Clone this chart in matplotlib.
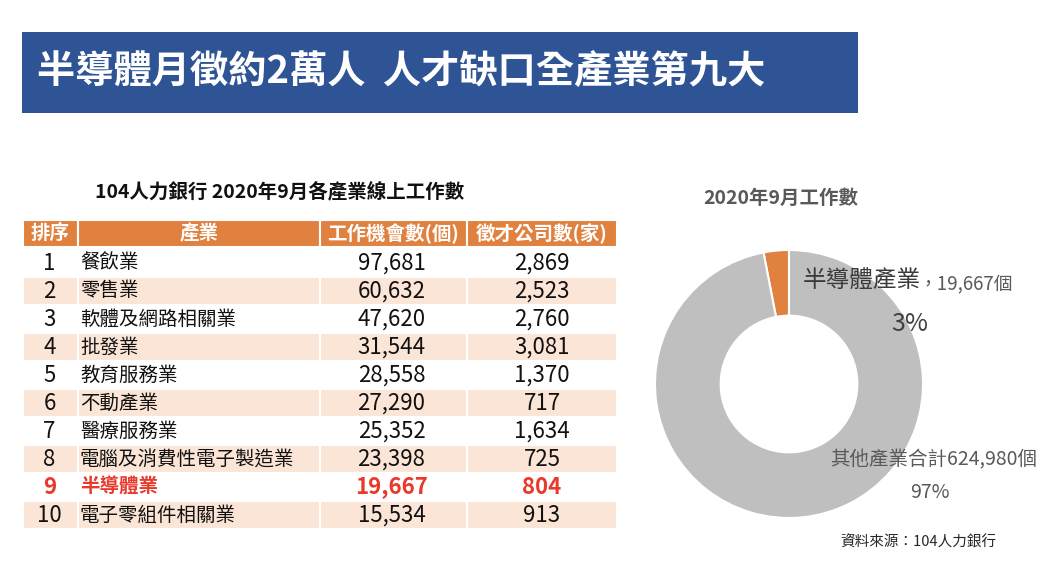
import matplotlib
matplotlib.use("Agg")
import matplotlib.pyplot as plt
from matplotlib.patches import Rectangle

plt.rcParams['font.family'] = ['Noto Sans CJK TC', 'DejaVu Sans']

# ---------------- datos ----------------
titulo = "半導體月徵約2萬人  人才缺口全產業第九大"
titulo_tabla = "104人力銀行 2020年9月各產業線上工作數"
encabezados = ["排序", "產業", "工作機會數(個)", "徵才公司數(家)"]
rangos = [1, 2, 3, 4, 5, 6, 7, 8, 9, 10]
industrias = ["餐飲業", "零售業", "軟體及網路相關業", "批發業", "教育服務業",
              "不動產業", "醫療服務業", "電腦及消費性電子製造業", "半導體業",
              "電子零組件相關業"]
trabajos = [97681, 60632, 47620, 31544, 28558, 27290, 25352, 23398, 19667, 15534]
empresas = [2869, 2523, 2760, 3081, 1370, 717, 1634, 725, 804, 913]
destacado = 9  # fila en rojo

titulo_dona = "2020年9月工作數"
dona_labels = ["半導體產業", "其他產業合計"]
dona_vals = [19667, 624980]
fuente = "資料來源：104人力銀行"

# ---------------- colores ----------------
AZUL = "#2E5496"
NARANJA = "#E0813F"
DURAZNO = "#FBE5D6"
GRIS = "#BFBFBF"
ROJO = "#E8392B"

fig = plt.figure(figsize=(10.48, 5.75), dpi=100)
W, H = 1048, 575

# ---------------- dona ----------------
cx, cy, r = 789, 384, 134
axd = fig.add_axes([(cx - r) / W, (H - cy - r) / H, 2 * r / W, 2 * r / H])
axd.pie(dona_vals, colors=[NARANJA, GRIS], startangle=90, counterclock=True,
        radius=1, wedgeprops=dict(width=0.49, edgecolor='white', linewidth=1.5))
axd.set_xlim(-1, 1)
axd.set_ylim(-1, 1)
axd.set_aspect('equal')
axd.axis('off')

# ---------------- lienzo en pixeles ----------------
ax = fig.add_axes([0, 0, 1, 1])
ax.set_xlim(0, W)
ax.set_ylim(H, 0)
ax.axis('off')

# banner
ax.add_patch(Rectangle((22, 32), 836, 81, facecolor=AZUL, edgecolor='none'))
ax.text(37, 71, titulo, color='white', fontsize=27.5, fontweight='bold',
        ha='left', va='center')

# tabla
ax.text(280, 191, titulo_tabla, fontsize=14, fontweight='bold',
        ha='center', va='center', color='#111111')

cols = [23, 78, 320, 467, 617]
y_head, h_head = 220, 27
y0, h_row = 249, 28

for j, enc in enumerate(encabezados):
    ax.add_patch(Rectangle((cols[j], y_head), cols[j + 1] - cols[j], h_head,
                           facecolor=NARANJA, edgecolor='white', linewidth=1.5))
    ax.text((cols[j] + cols[j + 1]) / 2, y_head + h_head / 2, enc, color='white',
            fontsize=14, fontweight='bold', ha='center', va='center')

for i in range(len(rangos)):
    y = y0 + i * h_row
    fc = DURAZNO if i % 2 == 1 else 'white'
    for j in range(4):
        ax.add_patch(Rectangle((cols[j], y), cols[j + 1] - cols[j], h_row,
                               facecolor=fc, edgecolor='white', linewidth=1.5))
    es_dest = rangos[i] == destacado
    color = ROJO if es_dest else '#111111'
    peso = 'bold' if es_dest else 'normal'
    yc = y + h_row / 2
    kw = dict(color=color, fontweight=peso, va='center')
    ax.text((cols[0] + cols[1]) / 2 - 1, yc, str(rangos[i]), ha='center',
            fontsize=16, **kw)
    ax.text(cols[1] + 2, yc, industrias[i], ha='left', fontsize=14, **kw)
    ax.text((cols[2] + cols[3]) / 2 - 2, yc, f"{trabajos[i]:,}", ha='center',
            fontsize=16, **kw)
    ax.text((cols[3] + cols[4]) / 2, yc, f"{empresas[i]:,}", ha='center',
            fontsize=16, **kw)

# textos de la dona
total = sum(dona_vals)
ax.text(781, 198, titulo_dona, fontsize=14, fontweight='bold', color='#595959',
        ha='center', va='center')
ax.text(803, 281, dona_labels[0], fontsize=17, fontweight='medium',
        color='#3A3A3A', ha='left', va='center')
ax.text(919, 284, f"，{dona_vals[0]:,}個", fontsize=13.5, color='#595959',
        ha='left', va='center')
ax.text(910, 324, f"{round(100 * dona_vals[0] / total)}%", fontsize=18,
        color='#404040', ha='center', va='center')
ax.text(830, 460, f"{dona_labels[1]}{dona_vals[1]:,}個", fontsize=14,
        color='#595959', ha='left', va='center')
ax.text(930, 493, f"{round(100 * dona_vals[1] / total)}%", fontsize=14,
        color='#595959', ha='center', va='center')
ax.text(840, 543, fuente, fontsize=10.5, color='#262626', ha='left', va='center')

fig.savefig("out.png", dpi=100, facecolor='white')
